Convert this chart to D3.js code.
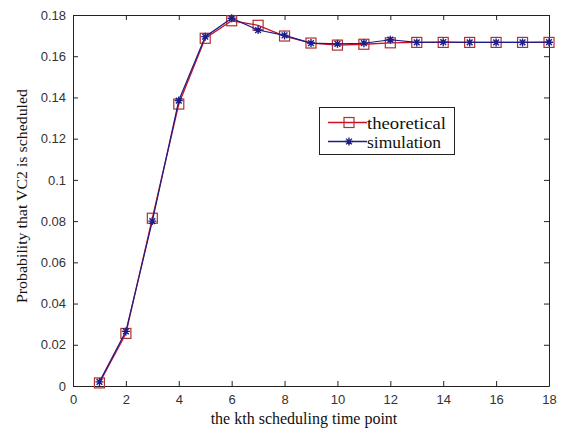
<!DOCTYPE html>
<html>
<head>
<meta charset="utf-8">
<script src="https://cdn.jsdelivr.net/npm/d3@7"></script>
<style>
  html, body { margin: 0; padding: 0; background: #fff; }
  svg { display: block; }
  .tick text { font-family: "Liberation Sans", Arial, sans-serif; font-size: 13px; fill: #333; }
  .lbl { font-family: "Liberation Serif", "Times New Roman", serif; fill: #111; }
</style>
</head>
<body>
<svg id="chart" width="561" height="433"></svg>
<script>
// Scheduling time points k = 1..18
const timePoints = [1, 2, 3, 4, 5, 6, 7, 8, 9, 10, 11, 12, 13, 14, 15, 16, 17, 18];
// Probability that VC2 is scheduled at the kth point
const theoretical = [0.0015, 0.0255, 0.0814, 0.1368, 0.1687, 0.1772, 0.1750, 0.1698, 0.1664, 0.1654, 0.1658, 0.1665, 0.1667, 0.1667, 0.1667, 0.1667, 0.1667, 0.1667];
const simulation  = [0.0020, 0.0265, 0.0800, 0.1385, 0.1695, 0.1784, 0.1727, 0.1701, 0.1664, 0.1660, 0.1663, 0.1680, 0.1667, 0.1668, 0.1667, 0.1667, 0.1667, 0.1668];
const xTicks = [0, 2, 4, 6, 8, 10, 12, 14, 16, 18];
const yTicks = [0, 0.02, 0.04, 0.06, 0.08, 0.1, 0.12, 0.14, 0.16, 0.18];
const seriesNames = ["theoretical", "simulation"];

const svg = d3.select("#chart");
const plotL = 73, plotR = 549, plotT = 15, plotB = 386;

const x = d3.scaleLinear().domain([0, 18]).range([plotL, plotR]);
const y = d3.scaleLinear().domain([0, 0.18]).range([plotB, plotT]);

const redCol = "#cc1122";
const blueCol = "#1c1c8a";

// axes with inward ticks (box style)
const axisStyle = g => {
  g.select(".domain").attr("stroke", "#222");
  g.selectAll(".tick line").attr("stroke", "#222");
};
svg.append("g").attr("transform", `translate(0,${plotB})`)
  .call(d3.axisBottom(x).tickValues(xTicks).tickSizeInner(-5).tickSizeOuter(0).tickPadding(9).tickFormat(d3.format("d")))
  .call(axisStyle);
svg.append("g").attr("transform", `translate(${plotL},0)`)
  .call(d3.axisLeft(y).tickValues(yTicks).tickSizeInner(-5).tickSizeOuter(0).tickPadding(7).tickFormat(d => d === 0 ? "0" : String(+d.toFixed(2))))
  .call(axisStyle);
svg.append("g").attr("transform", `translate(0,${plotT})`)
  .call(d3.axisTop(x).tickValues(xTicks).tickSizeInner(-5).tickSizeOuter(0).tickFormat(""))
  .call(axisStyle);
svg.append("g").attr("transform", `translate(${plotR},0)`)
  .call(d3.axisRight(y).tickValues(yTicks).tickSizeInner(-5).tickSizeOuter(0).tickFormat(""))
  .call(axisStyle);

// axis titles
svg.append("text").attr("class", "lbl").style("font-size", "16px")
  .attr("x", 304).attr("y", 424).attr("text-anchor", "middle")
  .text("the kth scheduling time point");
svg.append("text").attr("class", "lbl").style("font-size", "14px")
  .attr("transform", `translate(27,196) rotate(-90)`)
  .attr("text-anchor", "middle")
  .attr("textLength", 214).attr("lengthAdjust", "spacingAndGlyphs")
  .text("Probability that VC2 is scheduled");

const line = d3.line().x((d, i) => x(timePoints[i])).y(d => y(d));

// star marker path (asterisk: + and x)
const starPath = (cx, cy, r) => {
  const d = r * 0.72;
  return `M${cx - r},${cy}L${cx + r},${cy}M${cx},${cy - r}L${cx},${cy + r}` +
         `M${cx - d},${cy - d}L${cx + d},${cy + d}M${cx - d},${cy + d}L${cx + d},${cy - d}`;
};

// theoretical series: line + square markers
svg.append("path").datum(theoretical)
  .attr("fill", "none").attr("stroke", redCol).attr("stroke-width", 1.3).attr("d", line);
svg.append("g").selectAll("rect").data(theoretical).join("rect")
  .attr("x", (d, i) => x(timePoints[i]) - 5).attr("y", d => y(d) - 5)
  .attr("width", 10).attr("height", 10)
  .attr("fill", "none").attr("stroke", "#b03030").attr("stroke-width", 1.2);

// simulation series: line + star markers
svg.append("path").datum(simulation)
  .attr("fill", "none").attr("stroke", blueCol).attr("stroke-width", 1.2).attr("d", line);
svg.append("g").selectAll("path").data(simulation).join("path")
  .attr("d", (d, i) => starPath(x(timePoints[i]), y(d), 4))
  .attr("fill", "none").attr("stroke", blueCol).attr("stroke-width", 1.4);

// legend
const lg = svg.append("g");
lg.append("rect").attr("x", 319.5).attr("y", 107.5).attr("width", 135).attr("height", 47)
  .attr("fill", "#fff").attr("stroke", "#222").attr("stroke-width", 1);
const legendRows = [
  { name: seriesNames[0], col: redCol, yy: 122.5, len: 79 },
  { name: seriesNames[1], col: blueCol, yy: 141.5, len: 74 }
];
legendRows.forEach((r, i) => {
  lg.append("line").attr("x1", 328).attr("x2", 367).attr("y1", r.yy).attr("y2", r.yy)
    .attr("stroke", r.col).attr("stroke-width", 1.3);
  if (i === 0) {
    lg.append("rect").attr("x", 344).attr("y", r.yy - 5).attr("width", 10).attr("height", 10)
      .attr("fill", "none").attr("stroke", "#b03030").attr("stroke-width", 1.2);
  } else {
    lg.append("path").attr("d", starPath(349, r.yy, 4))
      .attr("fill", "none").attr("stroke", r.col).attr("stroke-width", 1.4);
  }
  lg.append("text").attr("class", "lbl").style("font-size", "17px")
    .attr("x", 367).attr("y", r.yy + 6.5)
    .attr("textLength", r.len).attr("lengthAdjust", "spacingAndGlyphs")
    .text(r.name);
});
</script>
</body>
</html>
